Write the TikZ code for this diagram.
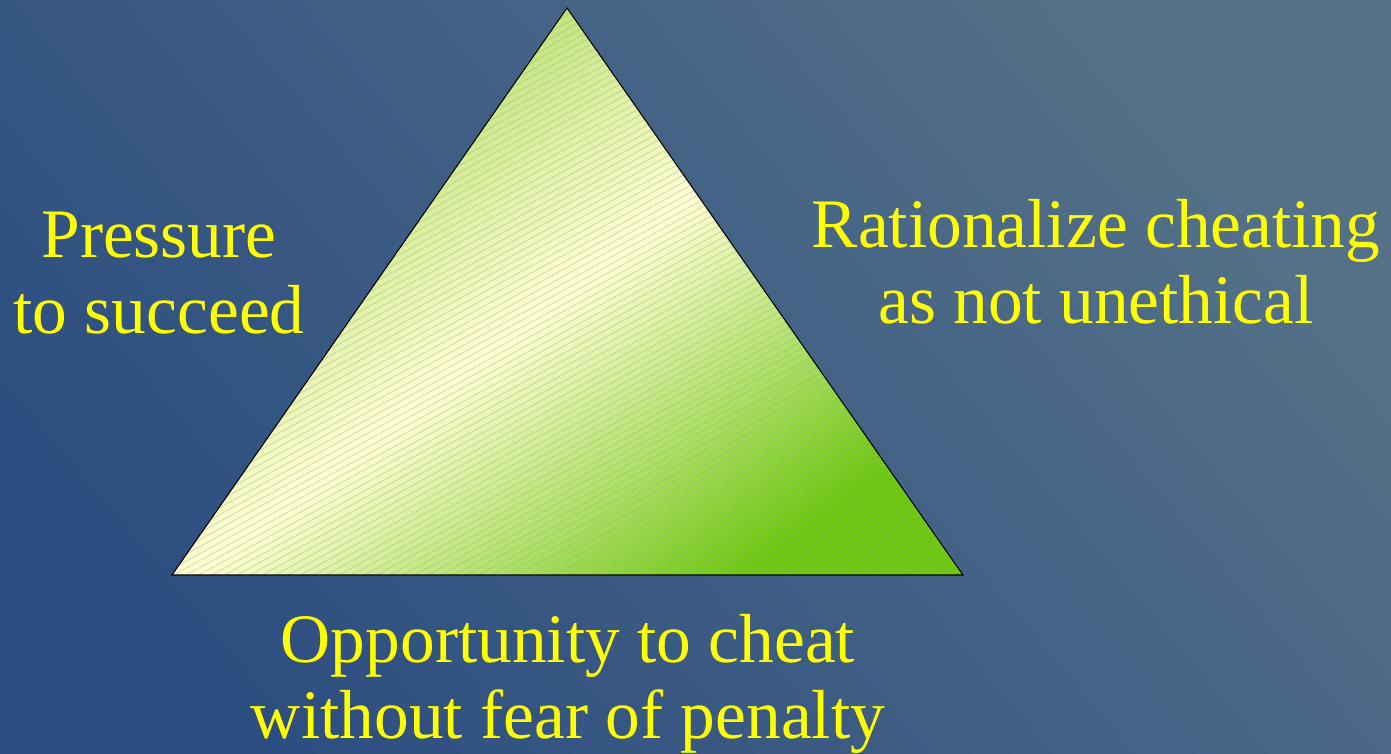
\documentclass[tikz,border=0pt]{standalone}
\usepackage{fontspec}
\setmainfont{Liberation Serif}
\usetikzlibrary{calc, positioning}
\definecolor{bgdark}{HTML}{2D4E80}
\definecolor{bglight}{HTML}{547188}
\definecolor{trigreen}{HTML}{6CC80C}
\definecolor{trilight}{HTML}{A6DA52}
\definecolor{tripale}{HTML}{FFFFD2}
\definecolor{labelyellow}{HTML}{FFFF00}
\tikzset{
    labelnode/.style = {draw=none, fill=none, rectangle, inner sep = 0em, align=center,
      text=labelyellow, font=\fontsize{39.5}{43}\selectfont},
    hatchline/.style = {gray!70, opacity=0.55, line width=0.35pt},
    triangleedge/.style = {black, line width=0.6pt, line join=miter}
}

\begin{document}
\begin{tikzpicture}[x=0.02cm, y=-0.02cm]
% background
\shade[shading=axis, bottom color=bgdark, top color=bglight, shading angle=-50]
  (0,0) rectangle (1391,753);
\useasboundingbox (0,0) rectangle (1391,753);

% triangle corners
\coordinate (apex) at (567,8);
\coordinate (leftcorner) at (172,575);
\coordinate (rightcorner) at (963,575);

\shade[shading=axis, top color=trilight, bottom color=trigreen, middle color=tripale,
  shading angle=37] (apex) -- (leftcorner) -- (rightcorner) -- cycle;
\begin{scope}
  \clip (apex) -- (leftcorner) -- (rightcorner) -- cycle;
  \foreach \y in {0,7,...,1030}
    \draw[hatchline] (150,\y) -- (1000,\y-468);
\end{scope}
\draw[triangleedge] (apex) -- (leftcorner) -- (rightcorner) -- cycle;

% labels
\node [labelnode, name=pressure, anchor=base] at (159,333) {Pressure\\to succeed};
\node [labelnode, name=rationalize, anchor=base] at (1096,323) {Rationalize cheating\\as not unethical};
\node [labelnode, name=opportunity, anchor=base] at (568,738) {Opportunity to cheat\\without fear of penalty};
\end{tikzpicture}
\end{document}
